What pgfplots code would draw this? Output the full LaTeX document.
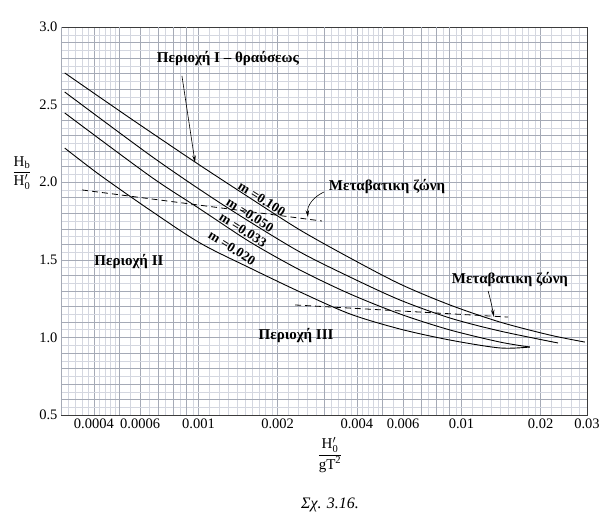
\documentclass[border=0pt]{standalone}
\usepackage{fontspec}
\setmainfont{Liberation Serif}
\usepackage{amsmath}
\usepackage{pgfplots}
\pgfplotsset{compat=1.18}
\usetikzlibrary{arrows.meta}
\definecolor{gridmin}{RGB}{212,215,224}
\definecolor{gridmaj}{RGB}{165,170,182}
\definecolor{axgray}{RGB}{60,60,60}

\begin{document}
\begin{tikzpicture}[font=\fontsize{15}{17}\selectfont]
\useasboundingbox (-61pt,-110pt) rectangle (541pt,415pt);
\begin{axis}[
  at={(0,0)}, anchor=south west,
  scale only axis, width=526pt, height=388pt,
  xmode=log, xmin=0.0003, xmax=0.03, ymin=0.5, ymax=3.0,
  xtick={0.0004,0.0006,0.001,0.002,0.004,0.006,0.01,0.02,0.03},
  xticklabels={0.0004,0.0006,0.001,0.002,0.004,0.006,0.01,0.02,0.03},
  ytick={0.5,1.0,1.5,2.0,2.5,3.0},
  yticklabels={0.5,1.0,1.5,2.0,2.5,3.0},
  extra x ticks={0.0003,0.0005,0.0007,0.0008,0.0009,0.003,0.005,0.007,0.008,0.009},
  extra x tick labels={},
  extra y ticks={0.6,0.7,0.8,0.9,1.1,1.2,1.3,1.4,1.6,1.7,1.8,1.9,2.1,2.2,2.3,2.4,2.6,2.7,2.8,2.9},
  extra y tick labels={},
  extra tick style={grid=major},
  minor xtick={0.00032,0.00034,0.00036,0.00038,0.00042,0.00044,0.00046,0.00048,
    0.00055,0.00065,0.00075,0.00085,0.00095,
    0.0011,0.0012,0.0013,0.0014,0.0015,0.0016,0.0017,0.0018,0.0019,
    0.0022,0.0024,0.0026,0.0028,0.0032,0.0034,0.0036,0.0038,0.0042,0.0044,0.0046,0.0048,
    0.0055,0.0065,0.0075,0.0085,0.0095,
    0.011,0.012,0.013,0.014,0.015,0.016,0.017,0.018,0.019,
    0.022,0.024,0.026,0.028},
  minor ytick={0.55,0.65,0.75,0.85,0.95,1.05,1.15,1.25,1.35,1.45,1.55,1.65,1.75,1.85,1.95,
    2.05,2.15,2.25,2.35,2.45,2.55,2.65,2.75,2.85,2.95},
  grid=both,
  major grid style={gridmaj, line width=0.45pt},
  minor grid style={gridmin, line width=0.3pt},
  major tick length=0pt, minor tick length=0pt,
  axis line style={axgray, line width=0.9pt},
  tick label style={font=\fontsize{14.5}{16}\selectfont},
  /pgf/number format/assume math mode=true,
]
% m = 0.100
\addplot[black, line width=0.9pt, smooth] coordinates {
  (0.000310,2.704) (0.000548,2.414) (0.000970,2.130) (0.00157,1.898)
  (0.002432,1.692) (0.003767,1.512) (0.005834,1.344) (0.009036,1.209)
  (0.0140,1.099) (0.02168,1.015) (0.02944,0.970)
};
% m = 0.050
\addplot[black, line width=0.9pt, smooth] coordinates {
  (0.000310,2.581) (0.000653,2.175) (0.001059,1.930) (0.00157,1.744)
  (0.002432,1.550) (0.003767,1.389) (0.005834,1.241) (0.009036,1.125)
  (0.0140,1.041) (0.02328,0.964)
};
% m = 0.033
\addplot[black, line width=0.9pt, smooth] coordinates {
  (0.000310,2.446) (0.000653,2.040) (0.001014,1.827) (0.00157,1.615)
  (0.002432,1.434) (0.003767,1.280) (0.005834,1.151) (0.009036,1.048)
  (0.0140,0.970) (0.0182,0.938)
};
% m = 0.020
\addplot[black, line width=0.9pt, smooth] coordinates {
  (0.000310,2.220) (0.000422,2.046) (0.000653,1.821) (0.001014,1.608)
  (0.00157,1.447) (0.002432,1.293) (0.003767,1.151) (0.005834,1.054)
  (0.009036,0.983) (0.0140,0.932) (0.0182,0.938)
};
% transition zones
\addplot[black, dash pattern=on 6pt off 4pt, line width=0.8pt] coordinates {(0.000361,1.950) (0.002944,1.750)};
\addplot[black, dash pattern=on 6pt off 4pt, line width=0.8pt] coordinates {(0.002328,1.209) (0.01503,1.131)};

\node[font=\fontsize{15}{17}\selectfont\bfseries] at (axis cs:0.001294,2.80) {Περιοχή I – θραύσεως};
\draw[line width=0.6pt, -{Stealth[length=7pt,width=3.5pt]}] (axis cs:0.000865,2.685) -- (axis cs:0.00097,2.128);

\node[font=\fontsize{15}{17}\selectfont\bfseries] at (axis cs:0.00521,1.969) {Μεταβατικη ζώνη};
\draw[line width=0.6pt, -{Stealth[length=7pt,width=3.5pt]}] (axis cs:0.00300,1.937) to[out=205,in=95] (axis cs:0.002606,1.775);

\node[font=\fontsize{15}{17}\selectfont\bfseries] at (axis cs:0.01528,1.370) {Μεταβατικη ζώνη};
\draw[line width=0.6pt, -{Stealth[length=7pt,width=3.5pt]}] (axis cs:0.01262,1.300) to[out=-75,in=100] (axis cs:0.01327,1.133);

\node[font=\fontsize{15}{17}\selectfont\bfseries] at (axis cs:0.000544,1.492) {Περιοχή II};
\node[font=\fontsize{15}{17}\selectfont\bfseries] at (axis cs:0.00235,1.015) {Περιοχή III};

\node[font=\fontsize{13.5}{16}\selectfont\bfseries, rotate=-32, inner sep=0pt] at (axis cs:0.001742,1.892) {m =0.100};
\node[font=\fontsize{13.5}{16}\selectfont\bfseries, rotate=-32, inner sep=0pt] at (axis cs:0.00157,1.789) {m =0.050};
\node[font=\fontsize{13.5}{16}\selectfont\bfseries, rotate=-32, inner sep=0pt] at (axis cs:0.001476,1.692) {m =0.033};
\node[font=\fontsize{13.5}{16}\selectfont\bfseries, rotate=-32, inner sep=0pt] at (axis cs:0.00134,1.576) {m =0.020};
\end{axis}
\node at (-39pt,242pt) {$\dfrac{\text{H}_{\text{b}}}{\text{H}'_{\text{0}}}$};
\node at (269pt,-40pt) {$\dfrac{\text{H}'_{\text{0}}}{\text{gT}^{\text{2}}}$};
\node[font=\fontsize{16}{18}\selectfont\itshape] at (269pt,-90pt) {Σχ. 3.16.};
\end{tikzpicture}
\end{document}
